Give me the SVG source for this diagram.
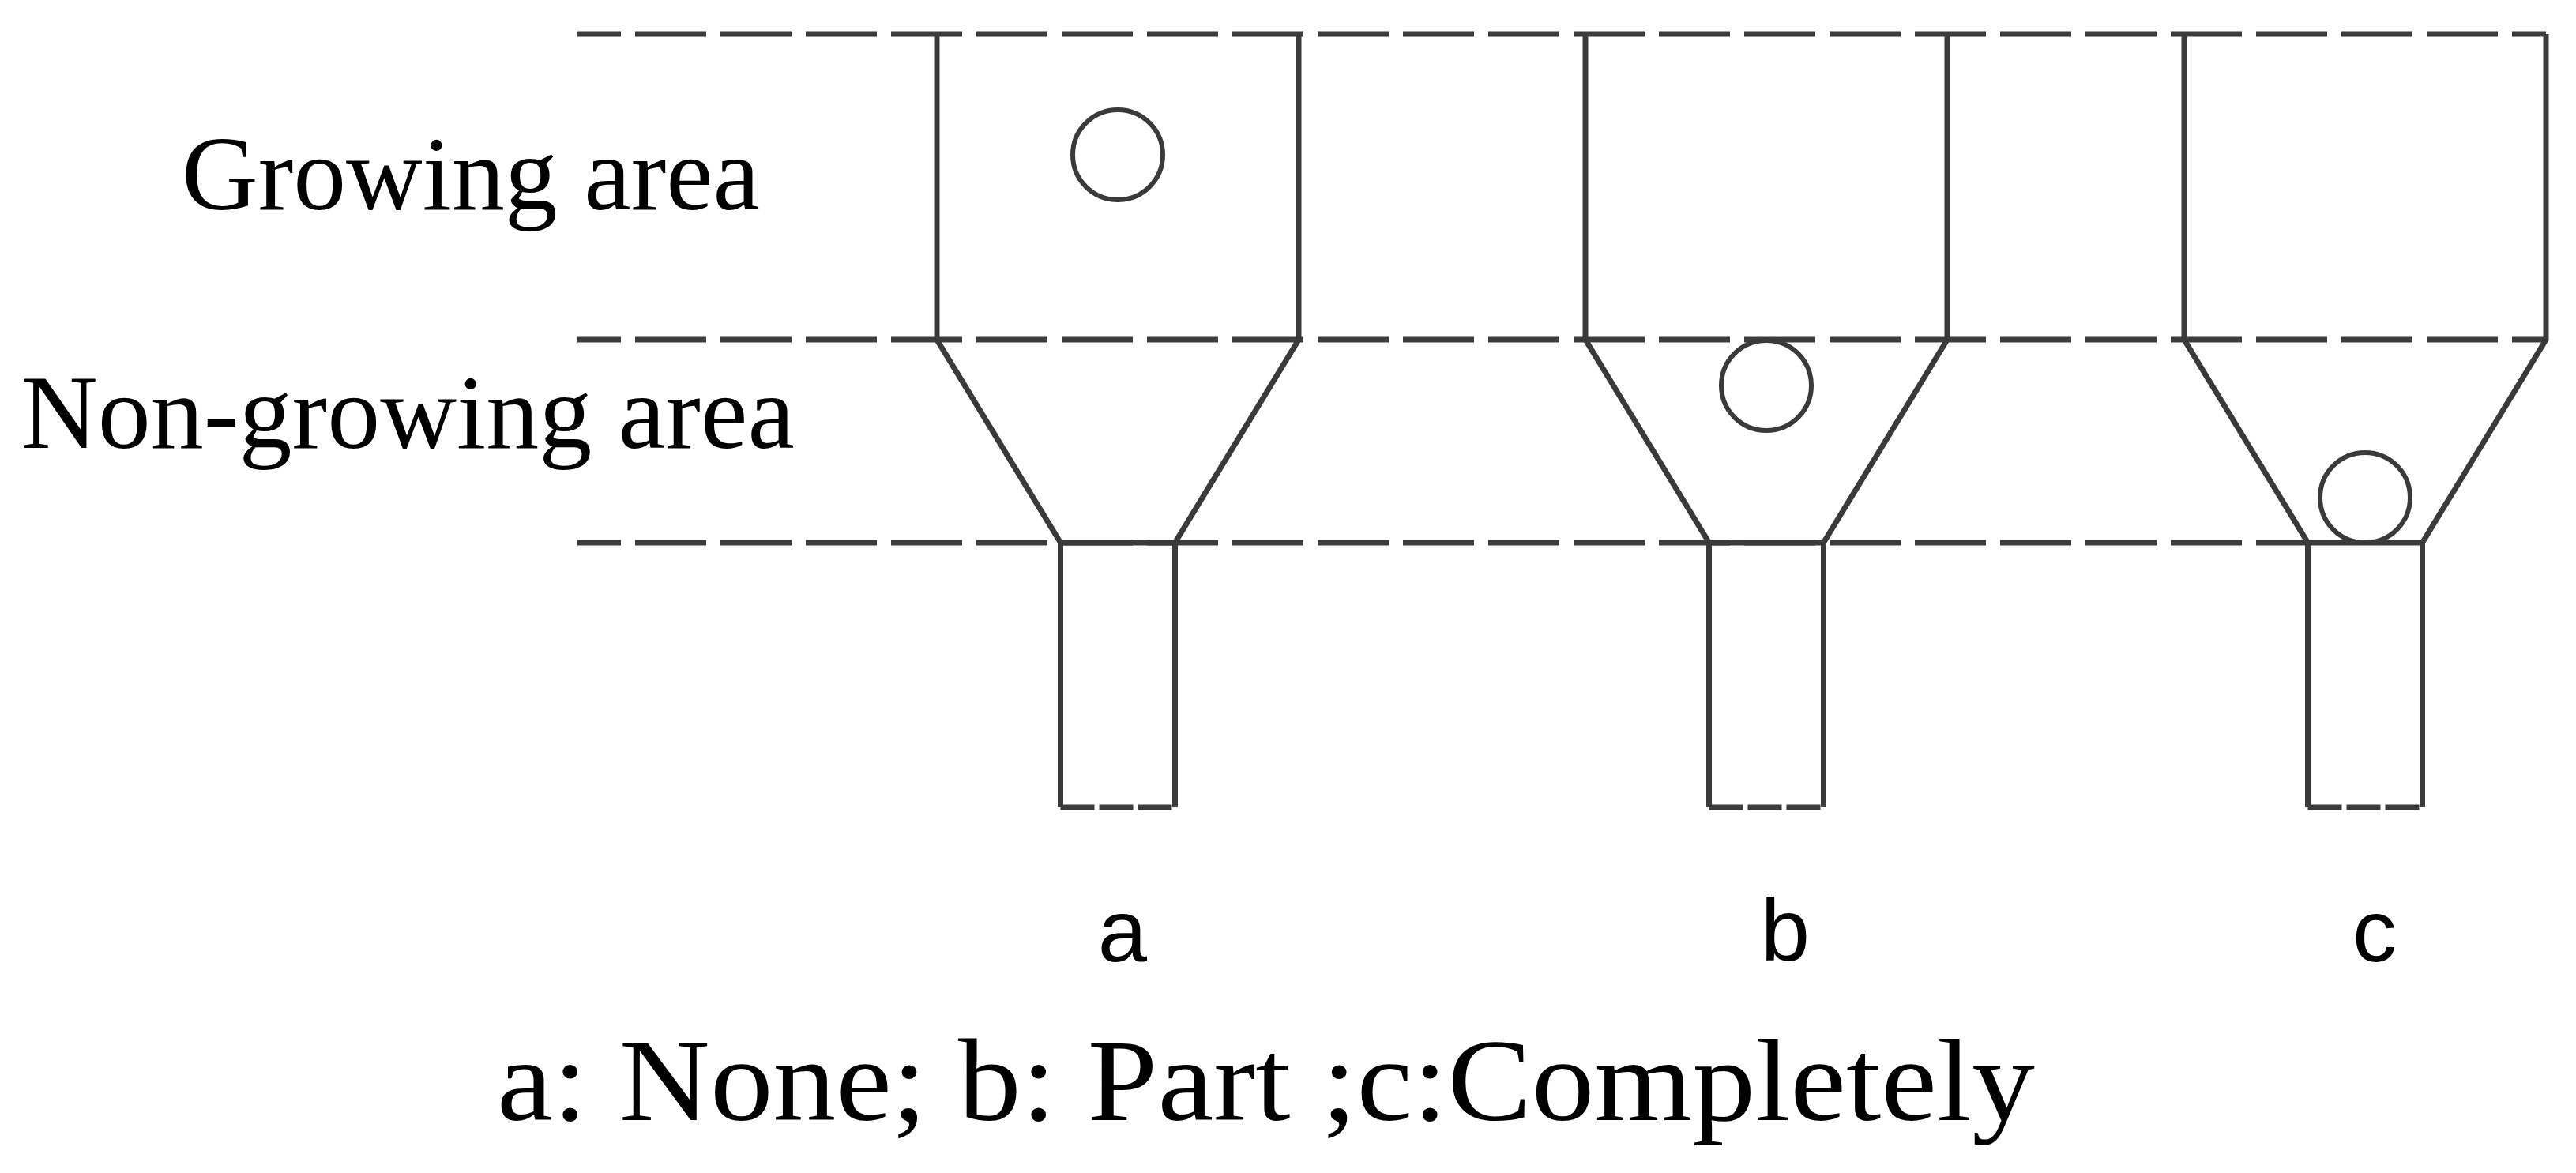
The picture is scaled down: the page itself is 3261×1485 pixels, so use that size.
<svg xmlns="http://www.w3.org/2000/svg" width="3261" height="1485" viewBox="0 0 3261 1485">
<style>
.zone{fill:none;stroke:#3c3c3c;stroke-width:7;stroke-dasharray:90 18;stroke-dashoffset:35}
.wall{fill:none;stroke:#3a3a3a;stroke-width:7;stroke-linejoin:miter}
.base{fill:none;stroke:#3a3a3a;stroke-width:7;stroke-dasharray:43 6}
.ball{fill:none;stroke:#3a3a3a;stroke-width:6}
.serif{font-family:"Liberation Serif","Times New Roman",serif;fill:#000}
.sans{font-family:"Liberation Sans",Arial,sans-serif;fill:#000;font-size:112px;text-anchor:middle}
</style>
<rect width="3261" height="1485" fill="#fff"/>
<g id="zone-lines">
<line class="zone" x1="731" y1="43" x2="3223" y2="43"/>
<line class="zone" x1="731" y1="430" x2="3223" y2="430"/>
<line class="zone" x1="731" y1="687" x2="2922" y2="687"/>
</g>
<g id="region-labels">
<text class="serif" x="230" y="265" font-size="134" textLength="732" lengthAdjust="spacingAndGlyphs">Growing area</text>
<text class="serif" x="27" y="567" font-size="134" textLength="979" lengthAdjust="spacingAndGlyphs">Non-growing area</text>
</g>
<g id="funnel-a">
<path class="wall" d="M1186,43 V430 L1342.5,687 V1022 M1487.5,1022 V687 L1644,430 V43 M1342.5,687 H1487.5"/>
<line class="base" x1="1342.5" y1="1022" x2="1487.5" y2="1022"/>
<circle class="ball" cx="1415" cy="196" r="57"/>
<text class="sans" x="1421" y="1217">a</text>
</g>
<g id="funnel-b">
<path class="wall" d="M2007,43 V430 L2163.5,687 V1022 M2308.5,1022 V687 L2465,430 V43 M2163.5,687 H2308.5"/>
<line class="base" x1="2163.5" y1="1022" x2="2308.5" y2="1022"/>
<circle class="ball" cx="2236" cy="488" r="57"/>
<text class="sans" x="2260" y="1216">b</text>
</g>
<g id="funnel-c">
<path class="wall" d="M2765,43 V430 L2921.5,687 V1022 M3066.5,1022 V687 L3223,430 V43 M2921.5,687 H3066.5"/>
<line class="base" x1="2921.5" y1="1022" x2="3066.5" y2="1022"/>
<circle class="ball" cx="2994" cy="630" r="57"/>
<text class="sans" x="3006" y="1217">c</text>
</g>
<g id="caption">
<text class="serif" x="629" y="1418" font-size="148" textLength="1947" lengthAdjust="spacingAndGlyphs">a: None; b: Part ;c:Completely</text>
</g>
</svg>
